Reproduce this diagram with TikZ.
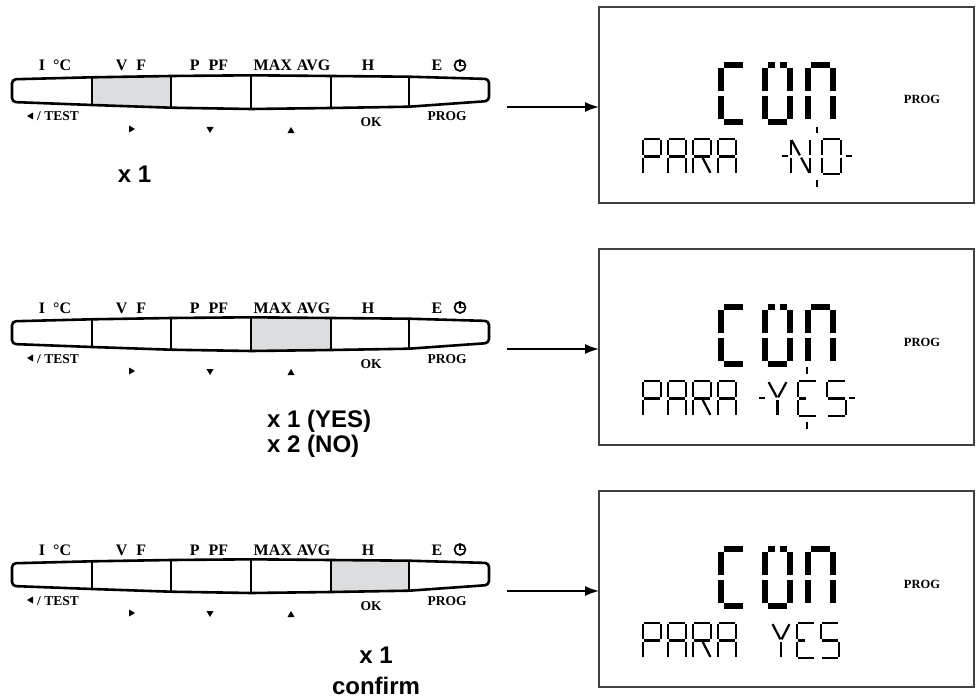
\documentclass[tikz,border=0pt]{standalone}
\usepackage{fontspec}
\setmainfont{Liberation Serif}
\setsansfont{Liberation Sans}
\usepackage[HTML]{xcolor}
\usepackage{tikz}
\usetikzlibrary{positioning, arrows.meta, calc}

\definecolor{keygray}{HTML}{DCDDDF}

% segments of the display glyphs, as pairs of cell points
\newcommand{\glyphC}{TL/TR, TL/ML, ML/BL, BL/BR}
\newcommand{\glyphO}{TL/TM, TM/TR, TR/MR, MR/BR, BL/BR, TL/ML, ML/BL}
\newcommand{\glyphN}{TL/TR, TL/ML, ML/BL, TR/MR, MR/BR}
\newcommand{\glyphP}{TL/TR, TR/MR, ML/MR, TL/ML, ML/BL}
\newcommand{\glyphA}{TL/TR, TL/ML, ML/BL, TR/MR, MR/BR, ML/MR}
\newcommand{\glyphR}{TL/TR, TL/ML, ML/BL, TR/MR, ML/MR, MM/BR}
\newcommand{\glyphNd}{TL/ML, ML/BL, TR/MR, MR/BR, TL/MM, MM/BR}
\newcommand{\glyphOd}{TL/TR, TR/MR, MR/BR, BL/BR, TL/ML, ML/BL}
\newcommand{\glyphY}{TL/MM, TR/MM, MM/BM}
\newcommand{\glyphE}{TL/TR, TL/ML, ML/BL, BL/BR, ML/MM}
\newcommand{\glyphS}{TL/TR, TL/ML, ML/MR, MR/BR, BL/BR}

% #1 x, #2 y, #3 width, #4 height, #5 stroke, #6 gap factor, #7 glyph
\newcommand{\lcdchar}[7]{%
  \begin{scope}[shift={(#1,#2)}]
    \coordinate (TL) at (0,0);      \coordinate (TM) at (#3/2,0);   \coordinate (TR) at (#3,0);
    \coordinate (ML) at (0,#4/2);   \coordinate (MM) at (#3/2,#4/2); \coordinate (MR) at (#3,#4/2);
    \coordinate (BL) at (0,#4);     \coordinate (BM) at (#3/2,#4);   \coordinate (BR) at (#3,#4);
    \foreach \p/\q in #7 {
      \draw[line width=#5, shorten <=#5*#6, shorten >=#5*#6] (\p) -- (\q);
    }
  \end{scope}}

\begin{document}
\begin{tikzpicture}[x=1pt, y=-1pt,
  keyline/.style={line width=2.6pt, line join=round},
  keytop/.style={anchor=base, inner sep=0pt, font=\fontsize{16}{18}\selectfont\bfseries},
  keybot/.style={anchor=base, inner sep=0pt, font=\fontsize{13.5}{15}\selectfont\bfseries},
  count/.style={anchor=base, inner sep=0pt, font=\sffamily\bfseries\fontsize{24}{27}\selectfont},
  lcdbox/.style={draw=black!75, line width=1.4pt, minimum width=375pt, minimum height=196pt, inner sep=0pt, outer sep=0pt},
  prog/.style={anchor=base, inner sep=0pt, font=\fontsize{12.5}{14}\selectfont\bfseries},
  flow/.style={line width=1.6pt, -{Latex[length=14pt, width=10pt]}},
  blink/.style={line width=2pt}]

\useasboundingbox (0,0) rectangle (979,698);

\foreach \row/\off/\ka/\kb in {1/0/1/2, 2/242/3/4, 3/484/4/5} {
\begin{scope}[shift={(0,\off)}]

% keypad outline points
\foreach \i/\x/\yt/\yb in {0/12/79.3/102, 1/92/77.3/105, 2/171/76/107.7, 3/251/75.3/109,
                           4/331/76/108, 5/409/76.7/106.7, 6/489/79/101} {
  \coordinate (t\i) at (\x,\yt);
  \coordinate (b\i) at (\x,\yb);
}

\fill[keygray] (t\ka) -- (t\kb) -- (b\kb) -- (b\ka) -- cycle; % pressed key
\draw[keyline, rounded corners=4pt] (12,90) -- (t0) -- (t1) -- (t2) -- (t3) -- (t4) -- (t5) -- (t6)
  -- (b6) -- (b5) -- (b4) -- (b3) -- (b2) -- (b1) -- (b0) -- cycle;
\foreach \i in {1,...,5} \draw[keyline] (t\i) -- (b\i);

% labels above the keys
\node[keytop] (kIC\row) at (55,71) {I\hspace{8pt}°C};
\node[keytop] (kVF\row) at (131,71) {V\hspace{9pt}F};
\node[keytop] (kPF\row) at (209,71) {P\hspace{9pt}PF};
\node[keytop] (kMA\row) at (292,71) {MAX\hspace{5pt}AVG};
\node[keytop] (kH\row) at (368,71) {H};
\node[keytop] (kE\row) at (437,71) {E};
\draw[line width=1.7pt] (460,65.5) circle (5.5);
\draw[line width=1.4pt] (460,61) -- (460,65.5) -- (464,65.5);

% labels below the keys
\fill (27,116) -- (33,112.5) -- (33,119.5) -- cycle;
\node[keybot] (kTest\row) at (58,121) {/ TEST};
\fill (129,125.5) -- (135,129) -- (129,132.5) -- cycle;
\fill (206.5,127) -- (213.5,127) -- (210,133) -- cycle;
\fill (287.5,133) -- (294.5,133) -- (291,127) -- cycle;
\node[keybot] (kOK\row) at (371,126) {OK};
\node[keybot] (kProg\row) at (447,121) {PROG};

% display
\node[lcdbox] (box\row) at (786.5,105) {};
\coordinate (kp\row) at (507,107);
\draw[flow] (kp\row) -- (kp\row -| box\row.west);
\node[prog] (pg\row) at (922,104) {PROG};

\lcdchar{721}{65}{25}{57}{6pt}{0.45}{\glyphC}
\lcdchar{765}{65}{25}{57}{6pt}{0.45}{\glyphO}
\lcdchar{808}{65}{25}{57}{6pt}{0.45}{\glyphN}

\lcdchar{643}{139}{18}{35}{2.2pt}{0.6}{\glyphP}
\lcdchar{668}{139}{18}{35}{2.2pt}{0.6}{\glyphA}
\lcdchar{693}{139}{18}{35}{2.2pt}{0.6}{\glyphR}
\lcdchar{718}{139}{18}{35}{2.2pt}{0.6}{\glyphA}

\end{scope}
}

% row 1: NO blinking
\lcdchar{791}{139}{19}{35}{2.2pt}{0.6}{\glyphNd}
\lcdchar{822}{139}{19}{35}{2.2pt}{0.6}{\glyphOd}
\draw[blink] (782,156) -- (788,156) (846,156) -- (852,156);
\draw[blink] (817,127) -- (817,133) (817,180) -- (817,187);
\node[count] (cnt1) at (134.5,182) {x 1};

% row 2: YES blinking
\lcdchar{768}{381}{19}{35}{2.2pt}{0.6}{\glyphY}
\lcdchar{798}{381}{19}{35}{2.2pt}{0.6}{\glyphE}
\lcdchar{827}{381}{19}{35}{2.2pt}{0.6}{\glyphS}
\draw[blink] (759,398) -- (765,398) (849,398) -- (855,398);
\draw[blink] (807,367) -- (807,374) (807,422) -- (807,429);
\node[count, anchor=base west] (cnt2a) at (267,427) {x 1 (YES)};
\node[count, anchor=base west] (cnt2b) at (267,452) {x 2 (NO)};

% row 3: YES confirmed
\lcdchar{772}{623}{18}{35}{2.2pt}{0.6}{\glyphY}
\lcdchar{797}{623}{18}{35}{2.2pt}{0.6}{\glyphE}
\lcdchar{821}{623}{18}{35}{2.2pt}{0.6}{\glyphS}
\node[count] (cnt3a) at (376,663) {x 1};
\node[count] (cnt3b) at (376,694) {confirm};

\end{tikzpicture}
\end{document}
